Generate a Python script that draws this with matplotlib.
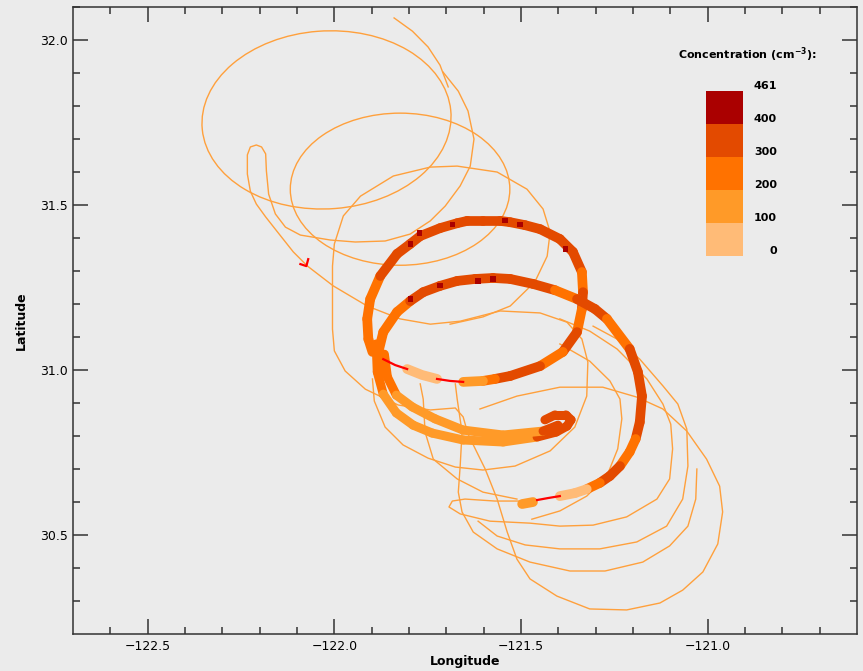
import numpy as np
import matplotlib.pyplot as plt
from matplotlib.collections import LineCollection
from matplotlib.colors import ListedColormap, BoundaryNorm
from matplotlib.patches import Ellipse

# concentration classes (cm^-3) for the colour key
levels = [0, 100, 200, 300, 400, 461]
level_colors = ["#ffbb77", "#ff9a28", "#ff7200", "#e34a00", "#aa0000"]
level_labels = ["0", "100", "200", "300", "400", "461"]

THIN = "#ffa03c"
GAP = "#ff0000"
BG = "#ebebeb"

# --- thin track (trajectory loops) ---
loop_lon = [-122.021, -121.824]
loop_lat = [31.758, 31.548]
loop_w = [0.668, 0.588]
loop_h = [0.539, 0.461]
loop_tilt = [5, 0]

entry_lon = [-121.840, -121.791, -121.749, -121.717, -121.695]
entry_lat = [32.067, 32.027, 31.979, 31.924, 31.858]

west_lon = [-121.709, -121.668, -121.642, -121.626, -121.636, -121.663, -121.703, -121.743,
            -121.797, -121.864, -121.944, -122.011, -122.091, -122.131, -122.158, -122.176,
            -122.182, -122.184, -122.195, -122.209, -122.225, -122.233, -122.233, -122.225,
            -122.209, -122.184, -122.152, -122.110, -122.072, -122.003, -121.912, -121.824,
            -121.743, -121.663, -121.556, -121.449, -121.377, -121.337, -121.321, -121.324,
            -121.356, -121.422, -121.516, -121.602, -121.676, -121.749, -121.816, -121.864,
            -121.893, -121.898]
west_lat = [31.903, 31.845, 31.785, 31.700, 31.618, 31.558, 31.497, 31.452,
            31.412, 31.391, 31.388, 31.394, 31.409, 31.433, 31.473, 31.533,
            31.603, 31.655, 31.676, 31.682, 31.676, 31.652, 31.594, 31.542,
            31.503, 31.464, 31.418, 31.358, 31.315, 31.255, 31.194, 31.155,
            31.139, 31.148, 31.179, 31.173, 31.145, 31.094, 31.024, 30.921,
            30.827, 30.755, 30.709, 30.697, 30.706, 30.733, 30.773, 30.827,
            30.906, 30.973]

outer_lon = [-121.690, -121.602, -121.529, -121.463, -121.430, -121.422, -121.441, -121.484,
             -121.564, -121.671, -121.743, -121.842, -121.930, -121.976, -122.000, -122.005,
             -122.005, -122.005, -122.000, -121.971, -121.917, -121.829, -121.743, -121.676,
             -121.655, -121.642, -121.620, -121.596, -121.564, -121.537, -121.511, -121.476,
             -121.404, -121.316, -121.217, -121.128, -121.067, -121.013, -120.973, -120.960,
             -120.968, -121.003, -121.056, -121.120, -121.190, -121.281, -121.396, -121.511,
             -121.610]
outer_lat = [31.139, 31.161, 31.194, 31.267, 31.345, 31.418, 31.488, 31.548,
             31.600, 31.618, 31.615, 31.588, 31.527, 31.467, 31.382, 31.315,
             31.215, 31.124, 31.058, 30.997, 30.942, 30.894, 30.879, 30.885,
             30.858, 30.806, 30.755, 30.700, 30.609, 30.509, 30.427, 30.367,
             30.315, 30.276, 30.273, 30.294, 30.333, 30.388, 30.473, 30.570,
             30.648, 30.730, 30.815, 30.882, 30.918, 30.948, 30.948, 30.921,
             30.882]

loopf_lon = [-121.396, -121.316, -121.243, -121.163, -121.120, -121.099, -121.094, -121.102,
             -121.136, -121.217, -121.307, -121.396, -121.476, -121.583, -121.663, -121.693,
             -121.684, -121.650, -121.570, -121.503]
loopf_lat = [31.155, 31.118, 31.064, 30.973, 30.897, 30.836, 30.761, 30.670,
             30.609, 30.555, 30.530, 30.527, 30.536, 30.542, 30.564, 30.585,
             30.603, 30.609, 30.603, 30.603]

loopg_lon = [-121.307, -121.243, -121.182, -121.120, -121.080, -121.056, -121.053, -121.067,
             -121.110, -121.190, -121.289, -121.396, -121.489, -121.564, -121.615]
loopg_lat = [31.133, 31.094, 31.033, 30.952, 30.897, 30.821, 30.709, 30.609,
             30.527, 30.479, 30.458, 30.458, 30.470, 30.497, 30.542]

last_lon = [-121.676, -121.671, -121.658, -121.663, -121.668, -121.658, -121.628, -121.564,
            -121.476, -121.369, -121.275, -121.174, -121.102, -121.053, -121.032, -121.029]
last_lat = [30.958, 30.912, 30.812, 30.709, 30.630, 30.570, 30.509, 30.458,
            30.418, 30.391, 30.391, 30.418, 30.467, 30.527, 30.609, 30.700]

loope_lon = [-121.396, -121.316, -121.262, -121.235, -121.230, -121.241, -121.270, -121.324,
             -121.396, -121.471]
loope_lat = [31.079, 31.027, 30.967, 30.912, 30.852, 30.761, 30.679, 30.618,
             30.573, 30.548]

link_lon = [-121.770, -121.762, -121.757, -121.735, -121.671, -121.602, -121.511]
link_lat = [30.958, 30.912, 30.812, 30.730, 30.670, 30.630, 30.609]

# --- measured legs, coloured by concentration (one value per segment) ---
ringa_lon = [-121.898, -121.909, -121.912, -121.904, -121.877, -121.832, -121.797, -121.770,
             -121.717, -121.671, -121.644, -121.602, -121.556, -121.529, -121.489, -121.449,
             -121.396, -121.361, -121.337, -121.334, -121.337, -121.350, -121.388, -121.449,
             -121.529, -121.570, -121.602, -121.655]
ringa_lat = [31.055, 31.094, 31.155, 31.215, 31.285, 31.352, 31.382, 31.406,
             31.430, 31.445, 31.452, 31.452, 31.452, 31.448, 31.439, 31.427,
             31.397, 31.358, 31.297, 31.236, 31.185, 31.115, 31.055, 31.012,
             30.982, 30.973, 30.967, 30.964]
ringa_conc = [250, 250, 250, 250, 320, 350, 350, 350, 350, 350, 350, 350, 350, 350,
              350, 350, 350, 330, 280, 350, 280, 350, 250, 350, 350, 250, 150]

ringb_lon = [-121.877, -121.882, -121.869, -121.832, -121.797, -121.762, -121.717, -121.671,
             -121.623, -121.575, -121.529, -121.468, -121.409, -121.350, -121.302, -121.270,
             -121.209, -121.187, -121.176, -121.182, -121.193, -121.209, -121.235, -121.262,
             -121.289, -121.324, -121.356, -121.396]
ringb_lat = [30.994, 31.055, 31.115, 31.176, 31.209, 31.236, 31.255, 31.270,
             31.276, 31.279, 31.276, 31.261, 31.242, 31.215, 31.185, 31.155,
             31.064, 30.994, 30.921, 30.842, 30.791, 30.752, 30.709, 30.679,
             30.658, 30.639, 30.627, 30.618]
ringb_conc = [250, 250, 250, 280, 350, 350, 350, 350, 350, 350, 350, 350, 250, 350,
              350, 250, 350, 350, 350, 350, 250, 250, 350, 350, 250, 50, 50]

# short spikes above 400 cm^-3 along the two rings
spike_lon = [-121.797, -121.773, -121.684, -121.543, -121.503, -121.380,
             -121.717, -121.615, -121.575, -121.797]
spike_lat = [31.382, 31.415, 31.442, 31.452, 31.442, 31.367,
             31.255, 31.270, 31.276, 31.215]
spike_conc = [420, 430, 440, 450, 420, 410, 420, 430, 440, 410]

band1_lon = [-121.888, -121.885, -121.869, -121.834, -121.789, -121.738, -121.655, -121.548,
             -121.457, -121.406, -121.377, -121.366, -121.380, -121.409, -121.436]
band1_lat = [31.079, 30.994, 30.927, 30.870, 30.833, 30.809, 30.788, 30.782,
             30.797, 30.812, 30.830, 30.849, 30.864, 30.864, 30.849]
band1_conc = [250, 250, 150, 150, 150, 150, 150, 150, 350, 350, 350, 350, 350, 350]

band2_lon = [-121.866, -121.858, -121.834, -121.791, -121.730, -121.655, -121.548, -121.441,
             -121.401]
band2_lat = [31.048, 30.979, 30.924, 30.888, 30.852, 30.818, 30.803, 30.815, 30.833]
band2_conc = [250, 250, 150, 150, 150, 150, 150, 350]

peach_lon = [-121.725, -121.765, -121.805]
peach_lat = [30.973, 30.985, 31.003]
dot_lon = [-121.468, -121.497]
dot_lat = [30.600, 30.594]

# legs with no concentration data
gap1_lon = [-121.655, -121.690, -121.725]
gap1_lat = [30.964, 30.967, 30.973]
gap2_lon = [-121.805, -121.837, -121.869]
gap2_lat = [31.003, 31.015, 31.033]
gap3_lon = [-121.396, -121.428, -121.457]
gap3_lat = [30.618, 30.612, 30.606]
gap4_lon = [-122.091, -122.075, -122.070]
gap4_lat = [31.321, 31.315, 31.336]

cmap = ListedColormap(level_colors)
norm = BoundaryNorm(levels, cmap.N)


def coloured_leg(ax, lon, lat, conc, lw):
    pts = np.column_stack([lon, lat])
    segs = np.stack([pts[:-1], pts[1:]], axis=1)
    lc = LineCollection(segs, colors=cmap(norm(conc)), linewidths=lw,
                        capstyle="round", zorder=3)
    ax.add_collection(lc)


fig = plt.figure(figsize=(8.63, 6.71), dpi=100, facecolor=BG)
ax = fig.add_axes([0.0846, 0.0551, 0.9085, 0.9344], facecolor=BG)

for lo, la, w, h, t in zip(loop_lon, loop_lat, loop_w, loop_h, loop_tilt):
    ax.add_patch(Ellipse((lo, la), w, h, angle=t, fill=False, ec=THIN, lw=1.0, zorder=2))

for lo, la in [(entry_lon, entry_lat), (west_lon, west_lat), (outer_lon, outer_lat),
               (loopf_lon, loopf_lat), (loopg_lon, loopg_lat), (last_lon, last_lat),
               (loope_lon, loope_lat), (link_lon, link_lat)]:
    ax.plot(lo, la, color=THIN, lw=1.0, zorder=2)

coloured_leg(ax, ringa_lon, ringa_lat, ringa_conc, 7)
coloured_leg(ax, ringb_lon, ringb_lat, ringb_conc, 7)
coloured_leg(ax, band1_lon, band1_lat, band1_conc, 6.5)
coloured_leg(ax, band2_lon, band2_lat, band2_conc, 6.5)
ax.plot(peach_lon, peach_lat, color=level_colors[0], lw=7, solid_capstyle="round", zorder=3)
ax.plot(dot_lon, dot_lat, color=level_colors[1], lw=7, solid_capstyle="round", zorder=3)
ax.scatter(spike_lon, spike_lat, c=spike_conc, cmap=cmap, norm=norm, marker="s",
           s=14, linewidths=0, zorder=4)

for lo, la in [(gap1_lon, gap1_lat), (gap2_lon, gap2_lat), (gap3_lon, gap3_lat),
               (gap4_lon, gap4_lat)]:
    ax.plot(lo, la, color=GAP, lw=1.6, zorder=4)

ax.set_xlim(-122.7, -120.6)
ax.set_ylim(30.2, 32.1)
ax.set_xticks(np.arange(-122.5, -120.9, 0.5))
ax.set_xticklabels(["\u2212122.5", "\u2212122.0", "\u2212121.5", "\u2212121.0"])
ax.set_yticks([30.5, 31.0, 31.5, 32.0])
ax.set_yticklabels(["30.5", "31.0", "31.5", "32.0"])
ax.set_xticks(np.arange(-122.6, -120.6, 0.1), minor=True)
ax.set_yticks(np.arange(30.3, 32.1, 0.1), minor=True)
ax.tick_params(which="both", direction="in", top=True, right=True, width=1.1,
               color="#333333", labelsize=9, pad=4)
ax.tick_params(which="major", length=10.5)
ax.tick_params(which="minor", length=5)
for s in ax.spines.values():
    s.set_linewidth(1.1)
    s.set_color("#333333")

ax.set_xlabel("Longitude", fontsize=9, fontweight="bold")
ax.set_ylabel("Latitude", fontsize=9, fontweight="bold")
ax.xaxis.set_label_coords(0.5, -0.034)
ax.yaxis.set_label_coords(-0.057, 0.5)

# colour key
fig.text(747 / 863, 1 - 55 / 671, "Concentration (cm$^{\\mathbf{-3}}$):", ha="center",
         va="center", fontsize=8, fontweight="bold")
kax = fig.add_axes([706 / 863, 1 - 256 / 671, 37 / 863, 165 / 671])
kax.bar(np.zeros(5), np.ones(5), bottom=np.arange(5), width=1.0, color=level_colors)
kax.set_xlim(-0.5, 0.5)
kax.set_ylim(0, 5)
kax.axis("off")
for i, lab in enumerate(level_labels):
    kax.text(1.42, i + 0.14, lab, ha="right", va="center", fontsize=8,
             fontweight="bold", clip_on=False)

fig.savefig("out.png", dpi=100, facecolor=BG)
